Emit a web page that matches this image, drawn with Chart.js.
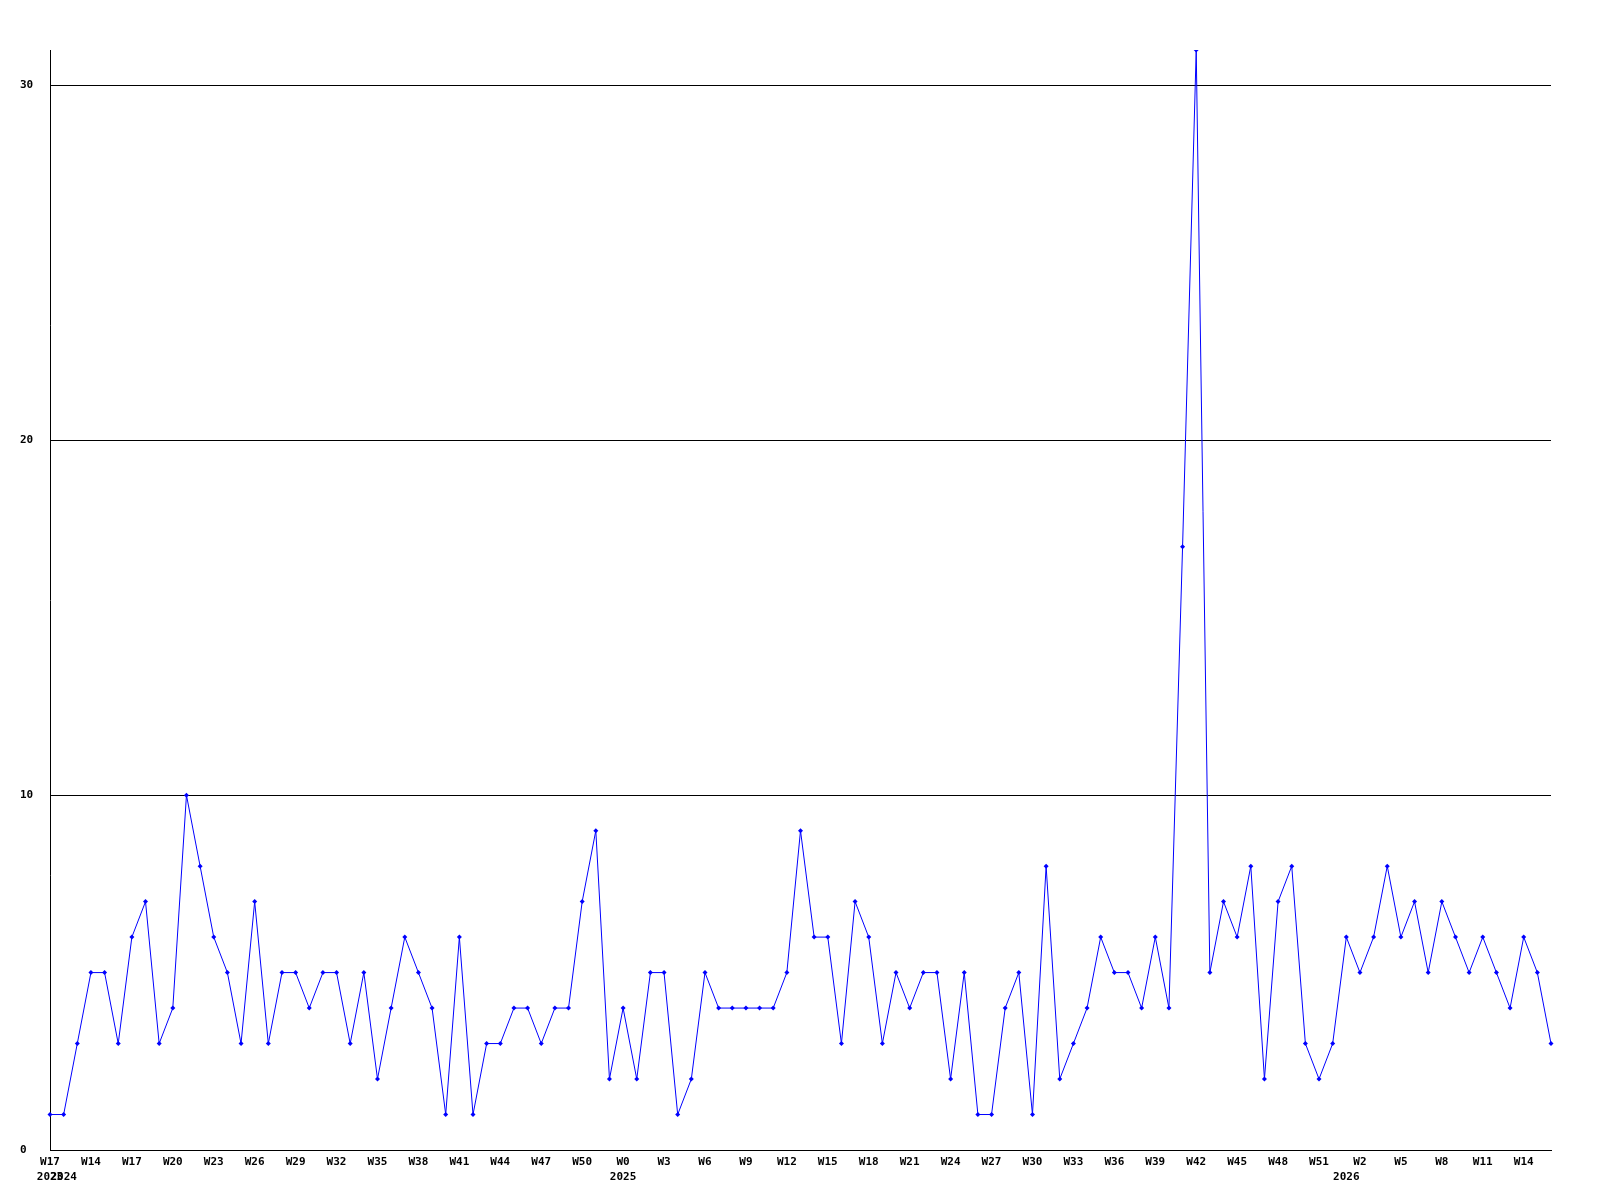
<!DOCTYPE html>
<html>
<head>
<meta charset="utf-8">
<script src="https://cdn.jsdelivr.net/npm/chart.js@4"></script>
<style>
  html, body { margin: 0; padding: 0; background: #fff; }
  #wrap { width: 1600px; height: 1200px; }
</style>
</head>
<body>
<div id="wrap"><canvas id="myChart" width="1600" height="1200"></canvas></div>
<script>
// week labels, one per point
const weeks = [
    'W17',
    'W12', 'W13', 'W14', 'W15', 'W16', 'W17', 'W18', 'W19', 'W20', 'W21', 'W22', 'W23', 'W24', 'W25',
    'W26', 'W27', 'W28', 'W29', 'W30', 'W31', 'W32', 'W33', 'W34', 'W35', 'W36', 'W37', 'W38', 'W39',
    'W40', 'W41', 'W42', 'W43', 'W44', 'W45', 'W46', 'W47', 'W48', 'W49', 'W50', 'W51', 'W52',
    'W0', 'W1', 'W2', 'W3', 'W4', 'W5', 'W6', 'W7', 'W8', 'W9', 'W10', 'W11', 'W12', 'W13', 'W14',
    'W15', 'W16', 'W17', 'W18', 'W19', 'W20', 'W21', 'W22', 'W23', 'W24', 'W25', 'W26', 'W27', 'W28',
    'W29', 'W30', 'W31', 'W32', 'W33', 'W34', 'W35', 'W36', 'W37', 'W38', 'W39', 'W40', 'W41', 'W42',
    'W43', 'W44', 'W45', 'W46', 'W47', 'W48', 'W49', 'W50', 'W51', 'W52',
    'W1', 'W2', 'W3', 'W4', 'W5', 'W6', 'W7', 'W8', 'W9', 'W10', 'W11', 'W12', 'W13', 'W14', 'W15', 'W16'
];

// year shown under the first week of each year (index -> year)
const yearIndex = [0, 1, 42, 95];
const yearNames = ['2023', '2024', '2025', '2026'];

const counts = [
    1, 1, 3, 5, 5, 3, 6, 7, 3, 4, 10, 8, 6, 5, 3, 7, 3, 5, 5, 4,
    5, 5, 3, 5, 2, 4, 6, 5, 4, 1, 6, 1, 3, 3, 4, 4, 3, 4, 4, 7,
    9, 2, 4, 2, 5, 5, 1, 2, 5, 4, 4, 4, 4, 4, 5, 9, 6, 6, 3, 7,
    6, 3, 5, 4, 5, 5, 2, 5, 1, 1, 4, 5, 1, 8, 2, 3, 4, 6, 5, 5,
    4, 6, 4, 17, 31, 5, 7, 6, 8, 2, 7, 8, 3, 2, 3, 6, 5, 6, 8, 6,
    7, 5, 7, 6, 5, 6, 5, 4, 6, 5, 3
];

const yTicks = [0, 10, 20, 30];
const yMax = 31;
const labelEvery = 3;

const tickFont = { family: "'DejaVu Sans Mono', monospace", size: 11, weight: 'bold', lineHeight: 15 / 11 };

document.addEventListener('DOMContentLoaded', () => {
    var ctx = document.getElementById('myChart').getContext('2d');

    function xLabel(i) {
        const top = (i % labelEvery === 0) ? weeks[i] : '';
        const y = yearIndex.indexOf(i);
        if (y >= 0) return [top, yearNames[y]];
        return top;
    }

    var myChart = new Chart(ctx, {
        type: 'line',
        data: {
            labels: weeks,
            datasets: [{
                data: counts,
                borderColor: '#0000ff',
                backgroundColor: '#0000ff',
                borderWidth: 1,
                tension: 0,
                pointStyle: 'rectRot',
                pointRadius: 2.5,
                pointBorderWidth: 0,
                pointBackgroundColor: '#0000ff'
            }]
        },
        options: {
            responsive: false,
            animation: false,
            layout: { padding: { left: 20, top: 50, right: 49, bottom: 0 } },
            plugins: {
                legend: { display: false },
                tooltip: { enabled: false }
            },
            scales: {
                x: {
                    type: 'category',
                    offset: false,
                    grid: { display: false, drawTicks: false },
                    border: { display: true, color: '#000', width: 1 },
                    ticks: {
                        autoSkip: false,
                        maxRotation: 0,
                        minRotation: 0,
                        padding: 4.5,
                        color: '#000',
                        font: tickFont,
                        callback: (val, i) => xLabel(i)
                    },
                    afterFit: (scale) => { scale.height = 50; }
                },
                y: {
                    min: 0,
                    max: yMax,
                    grid: { color: '#000', lineWidth: 1, drawTicks: false },
                    border: { display: true, color: '#000', width: 1 },
                    ticks: {
                        crossAlign: 'far',
                        padding: 0,
                        color: '#000',
                        font: tickFont
                    },
                    afterBuildTicks: (axis) => { axis.ticks = yTicks.map(v => ({ value: v })); },
                    afterFit: (scale) => { scale.width = 30; }
                }
            }
        }
    });
});
</script>
</body>
</html>
